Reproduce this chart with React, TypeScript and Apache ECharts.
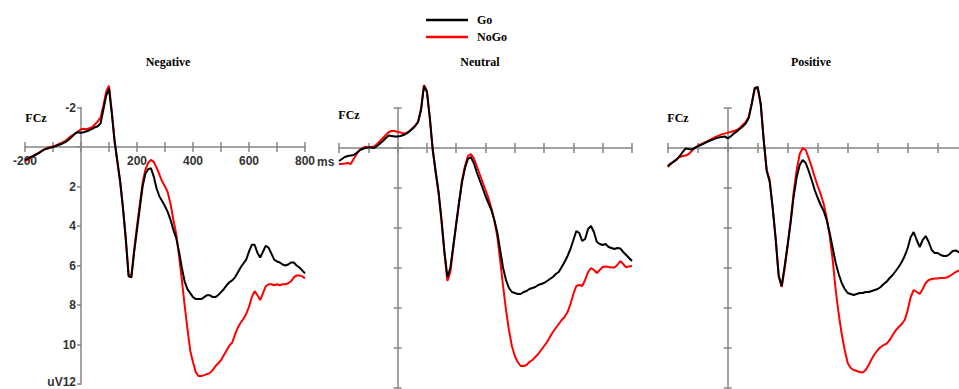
import React, { useEffect, useRef } from 'react';
import * as echarts from 'echarts';

// time grid (ms), -200 .. 800 in 10 ms steps
const TIMES: number[] = [];
for (let t = -200; t <= 800; t += 10) TIMES.push(t);

const X_TICK_LABELS = ['-200', '200', '400', '600', '800'];
const Y_TICK_LABELS = ['-2', '2', '4', '6', '8', '10', 'uV12'];
const PANEL_TITLES = ['Negative', 'Neutral', 'Positive'];
const SERIES_NAMES = ['Go', 'NoGo'];

const NEG_GO = [
  0.65, 0.6, 0.5, 0.45, 0.38, 0.3, 0.2, 0.12, 0.08, 0.04,
  0.0, -0.05, -0.1, -0.15, -0.22, -0.3, -0.42, -0.55, -0.7, -0.75,
  -0.72, -0.75, -0.8, -0.85, -0.92, -1.0, -1.05, -1.2, -1.9, -2.6,
  -2.95, -1.7, -0.3, 0.75, 1.75, 3.1, 4.7, 6.55, 6.6, 5.3,
  4.2, 3.1, 2.0, 1.35, 1.12, 1.08, 1.5, 2.1, 2.5, 2.75,
  3.0, 3.3, 3.7, 4.2, 4.6, 5.3, 6.1, 6.8, 7.2, 7.4,
  7.6, 7.7, 7.7, 7.7, 7.6, 7.5, 7.5, 7.6, 7.6, 7.5,
  7.35, 7.2, 7.0, 6.85, 6.75, 6.6, 6.35, 6.1, 5.9, 5.7,
  5.3, 4.95, 4.95, 5.35, 5.6, 5.3, 5.0, 5.1, 5.4, 5.7,
  5.8, 5.85, 5.95, 6.0, 5.95, 5.85, 5.85, 6.0, 6.1, 6.25,
  6.4,
];
const NEG_NOGO = [
  0.7, 0.65, 0.55, 0.45, 0.35, 0.3, 0.2, 0.12, 0.05, 0.0,
  -0.02, -0.08, -0.15, -0.2, -0.28, -0.38, -0.5, -0.6, -0.68, -0.8,
  -0.9, -0.92, -0.9, -0.95, -1.0, -1.15, -1.3, -1.5, -2.1, -2.8,
  -3.1, -1.8, -0.3, 0.75, 1.8, 3.1, 4.6, 6.45, 6.5, 5.2,
  4.0, 2.9, 1.8, 1.15, 0.8, 0.65, 0.75, 1.05, 1.4, 1.75,
  2.0, 2.3, 2.9, 3.7, 4.4, 5.5, 6.7, 8.0, 9.2, 10.3,
  10.9, 11.4, 11.6, 11.6, 11.55, 11.5, 11.45, 11.3, 11.1, 10.95,
  10.8, 10.55, 10.3, 10.05, 9.9, 9.5, 9.15, 8.9, 8.7, 8.45,
  8.1, 7.6, 7.3, 7.5, 7.75, 7.4, 7.05, 6.95, 6.95, 7.0,
  6.95, 7.0, 6.95, 6.95, 6.9, 6.8, 6.6, 6.5, 6.5, 6.55,
  6.65,
];
const NEU_GO = [
  0.65, 0.55, 0.45, 0.4, 0.38, 0.35, 0.25, 0.12, 0.05, 0.0,
  -0.03, -0.02, 0.0, -0.1, -0.23, -0.35, -0.5, -0.62, -0.6, -0.58,
  -0.58, -0.6, -0.65, -0.72, -0.82, -0.95, -1.1, -1.3, -1.9, -3.1,
  -2.8, -1.5, 0.1, 1.2, 2.2, 3.6, 5.2, 6.45, 6.0, 4.9,
  3.8, 2.7, 1.7, 1.0, 0.55, 0.45, 0.75, 1.2, 1.6, 2.0,
  2.4, 2.75, 3.1, 3.6, 4.2, 5.1, 6.0, 6.6, 7.0, 7.2,
  7.25, 7.3, 7.3, 7.2, 7.15, 7.05, 7.0, 6.95, 6.85, 6.8,
  6.75, 6.65, 6.55, 6.45, 6.3, 6.2, 5.95, 5.7, 5.4, 5.05,
  4.6, 4.15, 4.25, 4.65, 4.55, 4.05, 3.9, 4.2, 4.7, 4.8,
  4.85, 4.8, 4.95, 5.0, 5.05, 5.0, 5.02, 5.2, 5.35, 5.5,
  5.65,
];
const NEU_NOGO = [
  0.8, 0.8, 0.78, 0.75, 0.8, 0.55, 0.3, 0.1, 0.0, -0.05,
  -0.05, -0.05, -0.08, -0.2, -0.35, -0.5, -0.65, -0.8, -0.85, -0.85,
  -0.8, -0.78, -0.72, -0.75, -0.85, -0.98, -1.12, -1.32, -1.95, -3.15,
  -2.85, -1.5, 0.1, 1.2, 2.3, 3.7, 5.3, 6.65, 6.2, 5.0,
  3.8, 2.7, 1.6, 0.9, 0.4, 0.3, 0.5, 0.9, 1.3, 1.7,
  2.1, 2.5, 3.0, 3.6, 4.4, 5.6, 6.9, 8.1, 9.1, 9.9,
  10.4, 10.7, 10.9, 10.9, 10.85, 10.7, 10.6, 10.45, 10.3, 10.1,
  9.9, 9.7, 9.45, 9.2, 9.0, 8.8, 8.6, 8.45, 8.2, 7.8,
  7.3, 6.9, 6.85, 6.9, 6.6, 6.2, 6.0, 6.1, 6.25, 6.1,
  5.95, 5.92, 5.95, 5.97, 5.97, 5.85, 5.65, 5.8, 5.97, 5.92,
  5.9,
];
const POS_GO = [
  0.9, 0.78, 0.68, 0.58, 0.4, 0.2, 0.02, 0.05, 0.07, 0.0,
  -0.08, -0.15, -0.22, -0.3, -0.36, -0.42, -0.48, -0.52, -0.55, -0.58,
  -0.48, -0.58, -0.72, -0.82, -0.95, -1.08, -1.22, -1.5, -2.2, -3.0,
  -3.05, -2.2, -0.4, 1.15, 1.7, 3.0, 4.6, 6.4, 6.9, 5.9,
  4.8, 3.7, 2.4, 1.45, 0.85, 0.6, 0.75, 1.15, 1.6, 2.1,
  2.5, 2.85, 3.15, 3.6, 4.25, 5.0, 5.75, 6.3, 6.75, 7.05,
  7.25, 7.3, 7.35, 7.3, 7.25, 7.25, 7.2, 7.2, 7.15, 7.1,
  7.05, 6.95, 6.8, 6.68, 6.5, 6.35, 6.15, 5.95, 5.7, 5.4,
  5.0, 4.45, 4.2, 4.6, 4.95, 4.6, 4.4, 4.7, 5.1, 5.25,
  5.25, 5.35, 5.4, 5.4, 5.3, 5.15, 5.12, 5.2, 5.25, 5.3,
  5.35,
];
const POS_NOGO = [
  0.95, 0.8, 0.68, 0.55, 0.45, 0.4, 0.38, 0.3, 0.15, 0.0,
  -0.1, -0.18, -0.25, -0.32, -0.4, -0.48, -0.55, -0.62, -0.68, -0.72,
  -0.77, -0.8, -0.85, -0.9, -1.0, -1.15, -1.3, -1.55, -2.2, -2.95,
  -3.0, -2.2, -0.4, 1.1, 1.6, 3.0, 4.5, 6.4, 6.95, 6.0,
  4.9, 3.6, 2.2, 1.1, 0.3, 0.0, 0.1, 0.5, 0.95, 1.45,
  1.9, 2.3, 2.8, 3.5, 4.4, 5.6, 7.1, 8.3, 9.3, 10.1,
  10.75, 11.0, 11.1, 11.15, 11.2, 11.23, 11.1, 10.85, 10.55, 10.3,
  10.1, 9.95, 9.85, 9.78, 9.6, 9.35, 9.12, 8.95, 8.8, 8.6,
  8.1, 7.45, 7.1, 7.2, 7.3, 7.05, 6.75, 6.6, 6.55, 6.52,
  6.52, 6.5, 6.5, 6.48, 6.4, 6.3, 6.2, 6.13, 6.05, 6.0,
  5.95,
];

const PANEL_DATA = [
  { go: NEG_GO, nogo: NEG_NOGO },
  { go: NEU_GO, nogo: NEU_NOGO },
  { go: POS_GO, nogo: POS_NOGO },
];

const X_MIN = -200;
const X_MAX = 800;
const Y_MIN = -2;
const Y_MAX = 12;

const LAYOUT = [
  { grid: { left: 25, top: 107.5, width: 280, height: 276.5 }, titleX: 168, fcz: [36, 118], labels: true, innerY: false },
  { grid: { left: 339, top: 108, width: 293, height: 280 }, titleX: 480, fcz: [349, 115], labels: false, innerY: true },
  { grid: { left: 667.7, top: 108, width: 300, height: 280 }, titleX: 811, fcz: [678, 118], labels: false, innerY: true },
];

const AX = '#858585';
const SANS = '"Liberation Sans", Arial, sans-serif';
const SERIF = '"Liberation Serif", "Times New Roman", serif';

export default function App() {
  const ref = useRef<HTMLDivElement>(null);
  useEffect(() => {
    if (!ref.current) return;
    const chart = echarts.init(ref.current, undefined, { renderer: 'svg' });

    const grids: any[] = [];
    const xAxes: any[] = [];
    const yAxes: any[] = [];
    const series: any[] = [];
    const graphics: any[] = [];

    const labelStyle = { fontFamily: SANS, fontWeight: 'bold', fontSize: 12, color: '#333' };
    const xFmt = (v: number) => {
      const s = String(v);
      return X_TICK_LABELS.indexOf(s) >= 0 ? s : '';
    };
    const yFmt = (v: number) => {
      if (v === Y_MAX) return '{b|' + Y_TICK_LABELS[Y_TICK_LABELS.length - 1] + '}';
      const s = String(v);
      return Y_TICK_LABELS.indexOf(s) >= 0 ? s : '';
    };

    LAYOUT.forEach((p, i) => {
      const g = p.grid;
      const yPerUnit = g.height / (Y_MAX - Y_MIN);
      const xPerUnit = g.width / (X_MAX - X_MIN);
      // data grid
      grids.push({ left: g.left, top: g.top, width: g.width, height: g.height, containLabel: false, outerBoundsMode: 'none' });
      // x-axis grid: bottom edge at value 0
      grids.push({ left: g.left, top: g.top, width: g.width, height: (0 - Y_MIN) * yPerUnit, containLabel: false, outerBoundsMode: 'none' });
      // y-axis grid: left edge at time 0
      grids.push({ left: g.left + (0 - X_MIN) * xPerUnit, top: g.top, width: (X_MAX - 0) * xPerUnit, height: g.height, containLabel: false, outerBoundsMode: 'none' });
      const gd = 3 * i, gx = 3 * i + 1, gy = 3 * i + 2;

      // xAxes: data hidden, x main, x inner ticks, y-grid hidden
      xAxes.push({ type: 'value', gridIndex: gd, min: X_MIN, max: X_MAX, show: false });
      for (let k = 0; k < 2; k++) {
        xAxes.push({
          type: 'value', gridIndex: gx, min: X_MIN, max: X_MAX, interval: 100, position: 'bottom',
          axisLine: { show: k === 0, onZero: false, lineStyle: { color: AX, width: 1.5 } },
          axisTick: { show: true, inside: k === 1, length: 5, lineStyle: { color: AX, width: 1.5 } },
          axisLabel: { show: p.labels && k === 0, formatter: xFmt, margin: 8, showMinLabel: true, showMaxLabel: true, ...labelStyle },
          splitLine: { show: false },
        });
      }
      xAxes.push({ type: 'value', gridIndex: gy, min: 0, max: X_MAX, show: false });

      // yAxes: data hidden, x-grid hidden, y main, y inner ticks
      yAxes.push({ type: 'value', gridIndex: gd, min: Y_MIN, max: Y_MAX, inverse: true, show: false });
      yAxes.push({ type: 'value', gridIndex: gx, min: Y_MIN, max: 0, inverse: true, show: false });
      for (let k = 0; k < 2; k++) {
        yAxes.push({
          type: 'value', gridIndex: gy, min: Y_MIN, max: Y_MAX, interval: 2, inverse: true, position: 'left',
          axisLine: { show: k === 0, onZero: false, lineStyle: { color: AX, width: 1.5 } },
          axisTick: { show: k === 0 || p.innerY, inside: k === 1, length: 4, lineStyle: { color: AX, width: 1.5 } },
          axisLabel: {
            show: p.labels && k === 0, formatter: yFmt, margin: 5, showMinLabel: true, showMaxLabel: true, ...labelStyle,
            rich: { b: { ...labelStyle, padding: [0, 0, 5, 0] } },
          },
          splitLine: { show: false },
        });
      }

      const d = PANEL_DATA[i];
      series.push({
        type: 'line', name: SERIES_NAMES[1], xAxisIndex: 4 * i, yAxisIndex: 4 * i,
        data: TIMES.map((t, j) => [t, d.nogo[j]]),
        symbol: 'none', showSymbol: false, clip: false,
        lineStyle: { color: '#ff0000', width: 2 }, itemStyle: { color: '#ff0000' }, z: 3,
      });
      series.push({
        type: 'line', name: SERIES_NAMES[0], xAxisIndex: 4 * i, yAxisIndex: 4 * i,
        data: TIMES.map((t, j) => [t, d.go[j]]),
        symbol: 'none', showSymbol: false, clip: false,
        lineStyle: { color: '#000000', width: 2 }, itemStyle: { color: '#000000' }, z: 4,
      });
      graphics.push({
        type: 'text', x: p.titleX, y: 62,
        style: { text: PANEL_TITLES[i], font: `bold 12px ${SERIF}`, fill: '#000', align: 'center', verticalAlign: 'middle' },
      });
      graphics.push({
        type: 'text', x: p.fcz[0], y: p.fcz[1],
        style: { text: 'FCz', font: `bold 12px ${SERIF}`, fill: '#000', align: 'center', verticalAlign: 'middle' },
      });
    });

    graphics.push({
      type: 'text', x: 317, y: 162,
      style: { text: 'ms', font: `bold 12px ${SANS}`, fill: '#333', align: 'left', verticalAlign: 'middle' },
    });

    chart.setOption({
      animation: false,
      backgroundColor: '#ffffff',
      legend: {
        data: SERIES_NAMES, orient: 'vertical', left: 421, top: 9,
        icon: 'rect', itemWidth: 42, itemHeight: 2.5, itemGap: 5, selectedMode: false,
        textStyle: { fontFamily: SERIF, fontWeight: 'bold', fontSize: 12, lineHeight: 12, color: '#000', padding: [0, 0, 0, 4] },
      },
      grid: grids,
      xAxis: xAxes,
      yAxis: yAxes,
      series,
      graphic: graphics,
    });
    return () => chart.dispose();
  }, []);
  return <div ref={ref} style={{ position: 'fixed', left: 0, top: 0, width: 959, height: 389 }} />;
}
